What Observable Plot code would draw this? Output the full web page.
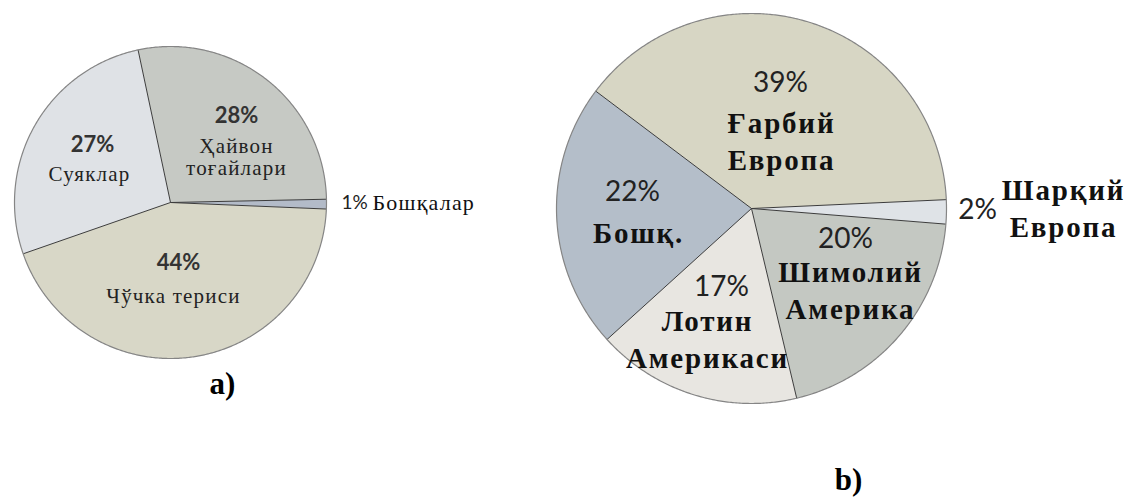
<!DOCTYPE html>
<html>
<head>
<meta charset="utf-8">
<script src="https://cdn.jsdelivr.net/npm/d3@7"></script>
<script src="https://cdn.jsdelivr.net/npm/@observablehq/plot@0.6"></script>
<style>
  html, body { margin: 0; padding: 0; background: #ffffff; }
  #chart { width: 1143px; height: 499px; }
</style>
</head>
<body>
<div id="chart"></div>
<script>
// ---------- data ----------
const leftNames  = ["Ҳайвон\nтоғайлари", "Бошқалар", "Чўчка териси", "Суяклар"];
const leftValues = [28, 1, 44, 27];
const leftFills  = ["#c6c9c4", "#b3bbc8", "#d8d7c7", "#dfe2e6"];

const rightNames  = ["Ғарбий\nЕвропа", "Шарқий\nЕвропа", "Шимолий\nАмерика", "Лотин\nАмерикаси", "Бошқ."];
const rightValues = [39, 2, 20, 17, 22];
const rightFills  = ["#d7d6c4", "#dfe3e7", "#c4c8c2", "#e8e6e1", "#b4bec9"];

const panelLabels = ["a)", "b)"];

// ---------- layout ----------
const W = 1143, H = 499;
const pies = [
  {id: "a", names: leftNames, values: leftValues, fills: leftFills, cx: 170, cy: 202, r: 156, start: -12},
  {id: "b", names: rightNames, values: rightValues, fills: rightFills, cx: 751, cy: 208, r: 195, start: -53}
];
// label anchor positions (annotation layout), one per slice, same order as data
const leftPctPos  = [[236, 115], [341, 202], [178, 262], [92, 144]];
const leftNamePos = [[236, 156], [372, 202], [173, 295], [89, 173]];
const rightPctPos  = [[780, 83], [977, 210], [845, 239], [721, 287], [632, 192]];
const rightNamePos = [[781, 139], [1063, 206], [850, 288], [707, 337], [638, 231]];
const panelPos = [[222, 384], [848, 480]];

// ---------- geometry via d3.pie ----------
const slices = [], rims = [], radials = [];
for (const p of pies) {
  const a0 = p.start * Math.PI / 180;
  const arcs = d3.pie().sort(null).value(d => d).startAngle(a0).endAngle(a0 + 2 * Math.PI)(p.values);
  arcs.forEach((a, i) => {
    const key = p.id + i;
    slices.push({key, x: p.cx, y: p.cy, fill: p.fills[i]});
    const n = Math.max(4, Math.ceil((a.endAngle - a.startAngle) / 0.01));
    for (let k = 0; k <= n; k++) {
      const t = a.startAngle + (a.endAngle - a.startAngle) * k / n;
      slices.push({key, x: p.cx + p.r * Math.sin(t), y: p.cy - p.r * Math.cos(t), fill: p.fills[i]});
    }
    radials.push({x1: p.cx, y1: p.cy, x2: p.cx + p.r * Math.sin(a.startAngle), y2: p.cy - p.r * Math.cos(a.startAngle)});
  });
  for (let k = 0; k <= 720; k++) {
    const t = 2 * Math.PI * k / 720;
    rims.push({key: p.id, x: p.cx + p.r * Math.sin(t), y: p.cy - p.r * Math.cos(t)});
  }
}

const leftPct = leftValues.map((v, i) => ({t: v + "%", x: leftPctPos[i][0], y: leftPctPos[i][1], i}));
const leftNm  = leftNames.map((s, i) => ({t: s, x: leftNamePos[i][0], y: leftNamePos[i][1], i}));
const rightPct = rightValues.map((v, i) => ({t: v + "%", x: rightPctPos[i][0], y: rightPctPos[i][1]}));
const rightNm  = rightNames.map((s, i) => ({t: s, x: rightNamePos[i][0], y: rightNamePos[i][1]}));
const panels = panelLabels.map((s, i) => ({t: s, x: panelPos[i][0], y: panelPos[i][1]}));

const SANS = "Lato, 'Open Sans', sans-serif";
const SERIF_L = "'Liberation Serif', 'DejaVu Serif', serif";
const SERIF_R = "'Liberation Serif', Times, serif";

const chart = Plot.plot({
  width: W, height: H,
  margin: 0,
  x: {domain: [0, W], range: [0, W], axis: null},
  y: {domain: [0, H], range: [0, H], axis: null},
  color: {type: "identity"},
  style: {background: "#ffffff"},
  marks: [
    Plot.line(slices, {x: "x", y: "y", z: "key", fill: "fill", stroke: "none", curve: "linear-closed"}),
    Plot.link(radials, {x1: "x1", y1: "y1", x2: "x2", y2: "y2", stroke: "#3c3c3c", strokeWidth: 1}),
    Plot.line(rims, {x: "x", y: "y", z: "key", stroke: "#858585", strokeWidth: 1.2, curve: "linear-closed"}),
    // left pie
    Plot.text(leftPct.filter(d => d.i !== 1), {x: "x", y: "y", text: "t", fontFamily: SANS, fontWeight: 700, fontSize: 22, fill: "#333"}),
    Plot.text(leftPct.filter(d => d.i === 1), {x: "x", y: "y", text: "t", textAnchor: "start", fontFamily: SANS, fontWeight: 400, fontSize: 19, fill: "#222"}),
    Plot.text(leftNm.filter(d => d.i !== 1), {x: "x", y: "y", text: "t", fontFamily: SERIF_L, fontSize: 21, lineHeight: 1.05, fill: "#222"}),
    Plot.text(leftNm.filter(d => d.i === 1), {x: "x", y: "y", text: "t", textAnchor: "start", fontFamily: SERIF_L, fontSize: 22, fill: "#111"}),
    // right pie
    Plot.text(rightPct, {x: "x", y: "y", text: "t", fontFamily: SANS, fontWeight: 400, fontSize: 28, fill: "#222"}),
    Plot.text(rightNm, {x: "x", y: "y", text: "t", fontFamily: SERIF_R, fontWeight: 700, fontSize: 29, lineHeight: 1.27, fill: "#111"}),
    // panel labels
    Plot.text(panels, {x: "x", y: "y", text: "t", fontFamily: "'Liberation Serif', serif", fontWeight: 700, fontSize: 31, fill: "#000"})
  ]
});

// letter spacing for the serif labels
chart.querySelectorAll("g[font-family]").forEach(g => {
  const f = g.getAttribute("font-family");
  if (f === SERIF_L) g.setAttribute("letter-spacing", "1.2");
  if (f === SERIF_R) g.setAttribute("letter-spacing", "1.8");
});

document.getElementById("chart").appendChild(chart);
</script>
</body>
</html>
